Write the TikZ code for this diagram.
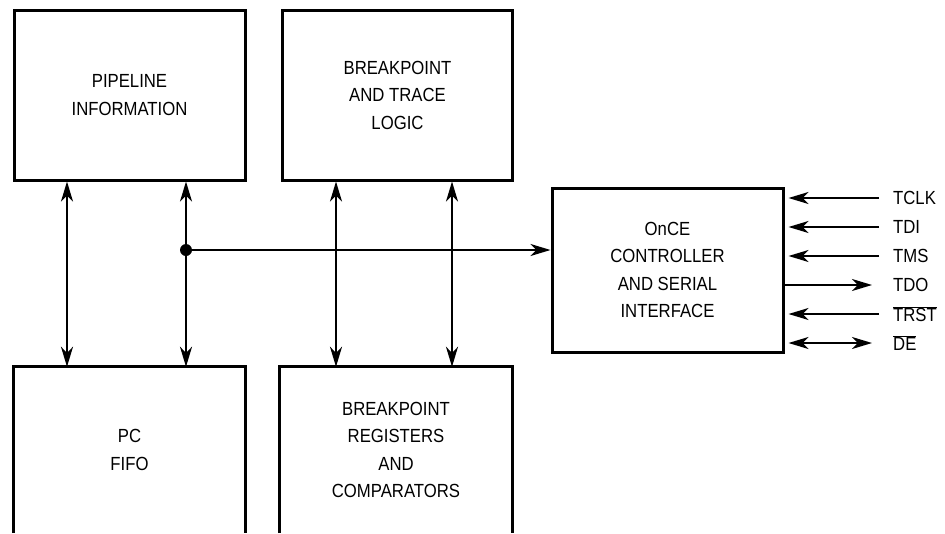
\documentclass[tikz,border=0pt]{standalone}
\usepackage{fontspec}
\setmainfont{Liberation Sans}[FakeStretch=0.88]
\usetikzlibrary{arrows.meta,positioning}

\begin{document}
\begin{tikzpicture}[
    x=1pt, y=-1pt,
    every node/.style={font=\fontsize{19}{27.5}\selectfont, align=center, inner sep=0pt},
    block/.style={draw, line width=3pt, minimum width=231pt, minimum height=170pt},
    openblock/.style={minimum width=232pt, minimum height=166pt},
    boxline/.style={line width=3pt},
    arr/.style={line width=2pt, -{Stealth[length=20pt, width=12pt, inset=6pt]}},
    biarr/.style={line width=2pt, {Stealth[length=20pt, width=12pt, inset=6pt]}-{Stealth[length=20pt, width=12pt, inset=6pt]}},
    dot/.style={circle, fill, minimum size=12pt},
    sig/.style={anchor=west}
]
\useasboundingbox (0,0) rectangle (945,533);

\node[block] (pipe) at (129.5,95) {PIPELINE\\INFORMATION};
\node[block, minimum width=230pt] (trace) at (397.5,95) {BREAKPOINT\\AND TRACE\\LOGIC};
\node[block, minimum height=164pt] (once) at (667.5,270) {OnCE\\CONTROLLER\\AND SERIAL\\INTERFACE};

\node[openblock, minimum width=231pt] (pcfifo) at (129.5,450) {PC\\FIFO};
\node[openblock] (bkreg) at (396,450) {BREAKPOINT\\REGISTERS\\AND\\COMPARATORS};
\draw[boxline] (pcfifo.south west) -- (pcfifo.north west) -- (pcfifo.north east) -- (pcfifo.south east);
\draw[boxline] (bkreg.south west) -- (bkreg.north west) -- (bkreg.north east) -- (bkreg.south east);

% Signals
\node[sig] (tclk) at (893,198) {TCLK};
\node[sig] (tdi) at (893,227) {TDI};
\node[sig] (tms) at (893,256) {TMS};
\node[sig] (tdo) at (893,285) {TDO};
\node[sig] (trst) at (893,314) {$\overline{\mbox{TRST}}$};
\node[sig] (de) at (893,343) {$\overline{\mbox{DE}}$};

\node[dot] (jn) at (186,250) {};

% Connections
\draw[biarr] ([xshift=-62.5pt]pipe.south) -- ([xshift=-62.5pt]pcfifo.north);
\draw[biarr] ([xshift=56.5pt]pipe.south) -- ([xshift=56.5pt]pcfifo.north);
\draw[biarr] ([xshift=-61.5pt]trace.south) -- ([xshift=-60pt]bkreg.north);
\draw[biarr] ([xshift=54.5pt]trace.south) -- ([xshift=56pt]bkreg.north);
\draw[arr] (jn.center) -- (jn -| once.west);

\draw[arr] ([xshift=-14pt]tclk.west) -- ([xshift=4pt]tclk.west -| once.east);
\draw[arr] ([xshift=-14pt]tdi.west) -- ([xshift=4pt]tdi.west -| once.east);
\draw[arr] ([xshift=-14pt]tms.west) -- ([xshift=4pt]tms.west -| once.east);
\draw[arr] (tdo.west -| once.east) -- ([xshift=-21pt]tdo.west);
\draw[arr] ([xshift=-14pt]trst.west) -- ([xshift=4pt]trst.west -| once.east);
\draw[biarr] ([xshift=4pt]de.west -| once.east) -- ([xshift=-21pt]de.west);

\end{tikzpicture}
\end{document}
